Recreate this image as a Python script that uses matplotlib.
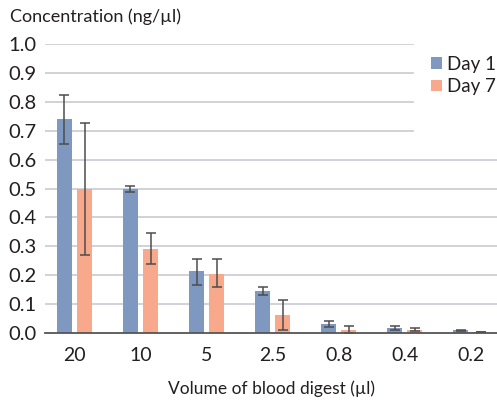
import numpy as np
import matplotlib
matplotlib.use('Agg')
import matplotlib.pyplot as plt

plt.rcParams['font.family'] = ['Lato', 'DejaVu Sans']

volumes = ['20', '10', '5', '2.5', '0.8', '0.4', '0.2']
day1 = [0.74, 0.50, 0.215, 0.145, 0.031, 0.018, 0.009]
day1_lo = [0.655, 0.487, 0.165, 0.133, 0.020, 0.012, 0.007]
day1_hi = [0.825, 0.510, 0.255, 0.160, 0.042, 0.025, 0.011]
day7 = [0.50, 0.29, 0.205, 0.062, 0.009, 0.012, 0.004]
day7_lo = [0.27, 0.24, 0.160, 0.010, 0.001, 0.008, 0.003]
day7_hi = [0.725, 0.345, 0.255, 0.114, 0.025, 0.016, 0.005]
yticks = [0.0, 0.1, 0.2, 0.3, 0.4, 0.5, 0.6, 0.7, 0.8, 0.9, 1.0]

blue = '#7f98c0'
orange = '#f8a98c'
ecol = '#4d4d4d'
tcol = '#231f20'

fig = plt.figure(figsize=(4.97, 4.01), dpi=100)
ax = fig.add_axes([45/497, 68/401, 452/497, 289/401])

x = np.arange(len(volumes))
w = 0.227
off = 0.152

# gridlines: upper ones stop short where the legend sits
for yv in yticks[1:]:
    xmax = 0.815 if yv >= 0.7 else 1.0
    ax.axhline(yv, xmin=0, xmax=xmax, color='#c9c9d3', lw=1.2, zorder=0)

d1 = np.array(day1)
d7 = np.array(day7)
err1 = [d1 - np.array(day1_lo), np.array(day1_hi) - d1]
err7 = [d7 - np.array(day7_lo), np.array(day7_hi) - d7]

ax.bar(x - off, day1, w, color=blue, label='Day 1', zorder=2,
       yerr=err1, error_kw=dict(ecolor=ecol, elinewidth=1.1, capsize=3.5, capthick=1.1))
ax.bar(x + off, day7, w, color=orange, label='Day 7', zorder=2,
       yerr=err7, error_kw=dict(ecolor=ecol, elinewidth=1.1, capsize=3.5, capthick=1.1))

ax.set_xlim(-0.447, 6.40)
ax.set_ylim(0, 1.0)
ax.set_xticks(x)
ax.set_xticklabels(volumes, fontsize=14, color=tcol)
ax.set_yticks(yticks)
ax.set_yticklabels(['%.1f' % v for v in yticks], fontsize=14.5, color=tcol)
ax.tick_params(length=0, pad=6)
ax.tick_params(axis='x', pad=10)

for s in ['top', 'right', 'left']:
    ax.spines[s].set_visible(False)
ax.spines['bottom'].set_color('#555555')
ax.spines['bottom'].set_linewidth(1.3)
ax.spines['bottom'].set_zorder(3)

ax.set_xlabel('Volume of blood digest (\u00b5l)', fontsize=12.5, color=tcol, labelpad=12)
fig.text(10/497, 1 - 17/401, 'Concentration (ng/\u00b5l)', fontsize=13, color=tcol,
         ha='left', va='center')

leg = ax.legend(loc='upper left', bbox_to_anchor=(0.855, 0.96), frameon=False,
                fontsize=13.5, handlelength=0.55, handleheight=0.55, handletextpad=0.3,
                labelspacing=0.3, borderaxespad=0, borderpad=0, labelcolor=tcol)

fig.savefig('out.png', dpi=100)
